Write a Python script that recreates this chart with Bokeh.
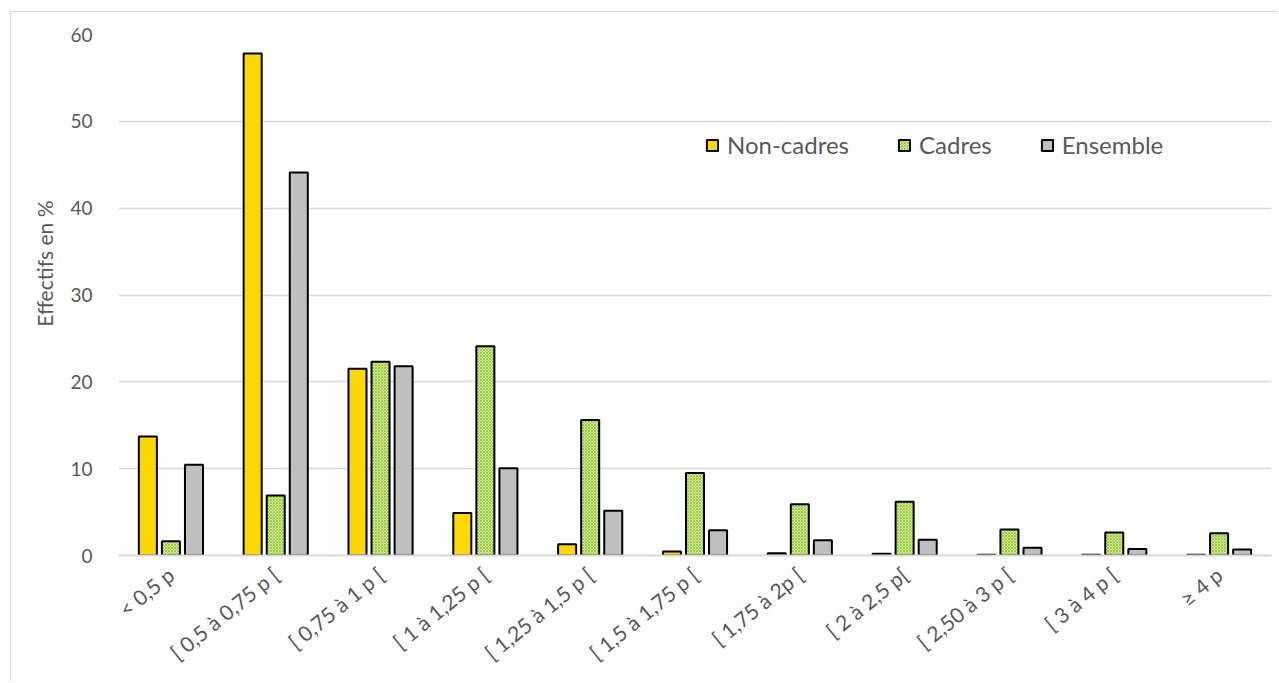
import math
from bokeh.plotting import figure
from bokeh.models import ColumnDataSource, FixedTicker, Legend, LegendItem, Title
from bokeh.transform import dodge
from bokeh.embed import file_html
from bokeh.resources import INLINE

categories = ["< 0,5 p", "[ 0,5 à 0,75 p [", "[ 0,75 à 1 p [", "[ 1 à 1,25 p [",
              "[ 1,25 à 1,5 p [", "[ 1,5 à 1,75 p [", "[ 1,75 à 2p [", "[ 2 à 2,5 p[",
              "[ 2,50 à 3 p [", "[ 3 à 4 p [", "≥ 4 p"]
non_cadres = [13.7, 57.8, 21.5, 4.9, 1.3, 0.45, 0.25, 0.2, 0.1, 0.1, 0.1]
cadres = [1.65, 6.9, 22.3, 24.1, 15.6, 9.5, 5.9, 6.2, 3.0, 2.65, 2.55]
ensemble = [10.45, 44.1, 21.8, 10.05, 5.15, 2.9, 1.75, 1.8, 0.9, 0.75, 0.7]
y_ticks = [0, 10, 20, 30, 40, 50, 60]
series_names = ["Non-cadres", "Cadres", "Ensemble"]
y_title = "Effectifs en %"

FONT = "Lato"
TXT = "#595959"

src = ColumnDataSource(dict(cat=categories, nc=non_cadres, c=cadres, e=ensemble))

p = figure(x_range=categories, y_range=(0, 60), width=1267, height=670,
           output_backend="svg", toolbar_location=None,
           min_border_left=107, min_border_right=7, min_border_top=22, min_border_bottom=127)
p.margin = (11, 0, 0, 10)
p.outline_line_color = None
p.background_fill_color = "white"
p.border_fill_color = "white"
p.styles = {"border-left": "1px solid #d9d9d9", "border-top": "1px solid #d9d9d9"}

bw = 0.172
off = 0.22
r1 = p.vbar(x=dodge("cat", -off, range=p.x_range), top="nc", width=bw, source=src,
            fill_color="#FFD800", line_color="black", line_width=2)
r2 = p.vbar(x=dodge("cat", 0, range=p.x_range), top="c", width=bw, source=src,
            fill_color="#f1f8dc", hatch_pattern="diagonal_cross", hatch_color="#9acb36",
            hatch_scale=3, hatch_weight=1.2, line_color="black", line_width=2)
r3 = p.vbar(x=dodge("cat", off, range=p.x_range), top="e", width=bw, source=src,
            fill_color="#BFBFBF", line_color="black", line_width=2)

# axes
p.yaxis.ticker = FixedTicker(ticks=y_ticks)
p.yaxis.axis_line_color = None
p.yaxis.major_tick_line_color = None
p.yaxis.minor_tick_line_color = None
p.yaxis.major_label_text_font = FONT
p.yaxis.major_label_text_font_size = "19px"
p.yaxis.major_label_text_color = TXT
p.yaxis.major_label_standoff = 20

p.xaxis.axis_line_color = "#d9d9d9"
p.xaxis.axis_line_width = 2
p.xaxis.major_tick_line_color = None
p.xaxis.minor_tick_line_color = None
p.xaxis.major_label_orientation = math.radians(39)
p.xaxis.major_label_text_font = FONT
p.xaxis.major_label_text_font_size = "21px"
p.xaxis.major_label_text_color = TXT
p.xaxis.major_label_standoff = 10

p.xgrid.grid_line_color = None
p.ygrid.grid_line_color = "#d9d9d9"
p.ygrid.grid_line_width = 1.5

# y-axis title as a left-side title, so that it can be shifted along the side
p.add_layout(Title(text=y_title, align="right", offset=166, vertical_align="middle",
                   standoff=20, text_font=FONT, text_font_size="21px",
                   text_font_style="normal", text_color=TXT), "left")

legend = Legend(items=[LegendItem(label=series_names[0], renderers=[r1]),
                       LegendItem(label=series_names[1], renderers=[r2]),
                       LegendItem(label=series_names[2], renderers=[r3])],
                orientation="horizontal", location=(587, 396),
                padding=0, margin=0, spacing=48, label_standoff=8,
                glyph_width=14, glyph_height=14, label_height=20,
                label_text_font=FONT, label_text_font_size="24px", label_text_color=TXT,
                background_fill_alpha=0, border_line_color=None)
p.add_layout(legend)

open("out.html", "w").write(file_html(p, INLINE))
